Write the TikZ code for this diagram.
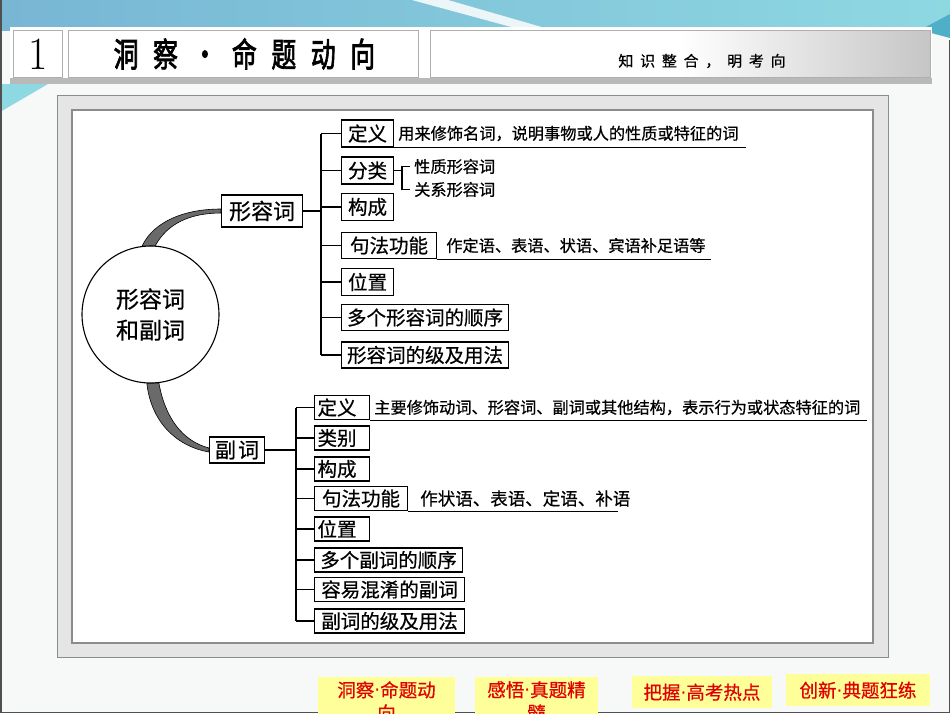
\documentclass[tikz,border=0pt]{standalone}
\usepackage{fontspec}
\newfontfamily\cjk[FakeBold=0.6]{Noto Sans CJK SC}
\newfontfamily\cjkt[FakeBold=2.4]{Noto Sans CJK SC}
\newfontfamily\dotf{DejaVu Sans}
\usetikzlibrary{calc}
\definecolor{topblue}{HTML}{78B6D4}
\definecolor{topcyan}{HTML}{8ED8E2}
\definecolor{wedgeblue}{HTML}{4FAFC8}
\definecolor{framegray}{HTML}{505050}
\definecolor{pagebg}{HTML}{F7F8F8}
\definecolor{panelgray}{HTML}{E5E5E5}
\definecolor{rimgray}{HTML}{8C8C8C}
\definecolor{btnyellow}{HTML}{FFFF99}
\definecolor{btnred}{HTML}{E00000}
\definecolor{bandgray}{HTML}{6A6A6A}
\begin{document}
\begin{tikzpicture}[x=1pt,y=-1pt,
  conn/.style={line width=1.1pt, black},
  abox/.style={draw=black, line width=1.1pt, fill=white, anchor=west,
    font=\cjk\fontsize{19.5}{20}\selectfont, inner xsep=4pt, inner ysep=1pt,
    minimum height=27pt},
  dbox/.style={abox, minimum height=24pt, inner xsep=3pt},
  dboxl/.style={dbox, text width=49pt, align=left},
  deft/.style={anchor=west, inner sep=1pt, font=\cjk\fontsize{16.2}{17}\selectfont},
  band/.style={fill=bandgray, draw=black, line width=0.6pt},
  hdrbox/.style={draw=rimgray!70, line width=0.8pt, anchor=north west, inner sep=0pt},
  btn/.style={fill=btnyellow, text=btnred, anchor=north, align=center,
    font=\cjk\fontsize{18.5}{23}\selectfont, inner xsep=2pt, inner ysep=4pt}
]
\useasboundingbox (0,0) rectangle (950,713);
\clip (0,0) rectangle (950,713);
% page background
\fill[pagebg] (0,0) rectangle (950,713);
\shade[left color=topblue, right color=topcyan] (0,0) rectangle (950,30);
\fill[white, opacity=0.85] (412,0) -- (448,0) -- (545,28) -- (515,28) -- cycle;
\fill[wedgeblue] (920,30) -- (950,14) -- (950,38) -- cycle;
\fill[topcyan] (0,84) -- (48,84) -- (0,112) -- cycle;
% header
\fill[white] (10,27) rectangle (932,78);
\fill[gray!55] (10,78) rectangle (932,84);
\node[hdrbox, fill=white, minimum width=49pt, minimum height=47pt] (hnum) at (13,30) {};
\node[yscale=1.1, font=\fontsize{42}{42}\selectfont] at (hnum.center) {1};
\node[hdrbox, fill=white, minimum width=350pt, minimum height=47pt] (htitle) at (68,30) {};
\node[xscale=0.78, yscale=1.05, font=\cjkt\fontsize{32}{32}\selectfont\addfontfeature{LetterSpace=58}]
  at ([xshift=1pt]htitle.center) {洞察・命题动向};
\fill[white] (430,30) rectangle (680,77);
\shade[left color=white, right color=gray!45] (680,30) rectangle (930,77);
\node[hdrbox, minimum width=500pt, minimum height=47pt] (hright) at (430,30) {};
\node[font=\cjk\fontsize{15}{15}\selectfont\addfontfeature{LetterSpace=45}] at (702,61) {知识整合，明考向};
% panel
\draw[rimgray, fill=panelgray, line width=1pt] (57,95) rectangle (888,657);
\draw[rimgray, fill=white, line width=1.2pt] (72,110) rectangle (873,643);
% root
\node[circle, draw=black, line width=1.1pt, fill=white, minimum size=137pt, inner sep=0pt,
  align=center, font=\cjk\fontsize{23}{31}\selectfont] (root) at (150.5,314.5) {形容词\\和副词};
% main nodes
\node[abox, font=\cjk\fontsize{22}{22}\selectfont, minimum width=81pt, minimum height=32pt] (adj) at (221,211) {形容词};
\node[abox, font=\cjk\fontsize{21}{21}\selectfont\addfontfeature{LetterSpace=10}, minimum width=55pt, minimum height=26pt] (adv) at (209,450) {副词};
% bands
\filldraw[band] (root.97) .. controls +(12,-25) and +(-36,0) .. ([yshift=2pt]adj.west)
  -- ([yshift=-2pt]adj.west) .. controls +(-31,0) and +(12,-22) .. (root.86) -- cycle;
\filldraw[band] (root.-93) .. controls +(4,37) and +(-34,-6) .. ([yshift=-2pt]adv.west)
  -- ([yshift=2pt]adv.west) .. controls +(-27,-7) and +(6,34) .. (root.-83) -- cycle;
% adjective branch
\node[abox, minimum width=52pt] (a1) at (341,133.5) {定义};
\node[abox, minimum width=52pt] (a2) at (341,170.5) {分类};
\node[abox, minimum width=52pt] (a3) at (341,207) {构成};
\node[abox, minimum width=95pt, minimum height=26pt] (a4) at (341,245.5) {句法功能};
\node[abox, minimum width=52pt] (a5) at (341,282) {位置};
\node[abox, minimum width=167pt, minimum height=26pt] (a6) at (341,317.5) {多个形容词的顺序};
\node[abox, minimum width=167pt, minimum height=26pt] (a7) at (341,355) {形容词的级及用法};
\coordinate (ah) at (321,211);
\draw[conn] (adj.east) -- (ah);
\draw[conn] (ah |- a1.west) -- (ah |- a7.west);
\foreach \n in {a1,a2,a3,a4,a5,a6,a7} \draw[conn] (ah |- \n.west) -- (\n.west);
\node[deft] (a1d) at ([xshift=3pt]a1.east) {用来修饰名词，说明事物或人的性质或特征的词};
\draw[conn] (a1.south east) -- ++(352,0);
\node[deft] (a4d) at ([xshift=8pt]a4.east) {作定语、表语、状语、宾语补足语等};
\draw[conn] (a4.south east) -- ++(274,0);
\node[deft, inner xsep=0pt] (t1) at (414,166.5) {性质形容词};
\node[deft, inner xsep=0pt] (t2) at (414,189.5) {关系形容词};
\coordinate (fb) at (402,170.5);
\draw[conn] (a2.east) -- (fb);
\draw[conn] ([xshift=-4pt]t1.west) -- (fb |- t1.west) -- (fb |- t2.west) -- ([xshift=-4pt]t2.west);
% adverb branch
\node[dboxl] (d1) at (314,407.5) {定义};
\node[dboxl] (d2) at (314,438) {类别};
\node[dboxl] (d3) at (314,469) {构成};
\node[dbox, minimum width=93pt] (d4) at (314,498.5) {句法功能};
\node[dboxl] (d5) at (314,529) {位置};
\node[dbox, minimum width=148pt] (d6) at (314,560) {多个副词的顺序};
\node[dbox, minimum width=150pt] (d7) at (314,589.5) {容易混淆的副词};
\node[dbox, minimum width=150pt] (d8) at (314,621) {副词的级及用法};
\coordinate (dh) at (296,450);
\draw[conn] (adv.east) -- (dh);
\draw[conn] (dh |- d1.west) -- (dh |- d8.west);
\foreach \n in {d1,d2,d3,d4,d5,d6,d7,d8} \draw[conn] (dh |- \n.west) -- (\n.west);
\node[deft] (d1d) at ([xshift=3pt]d1.east) {主要修饰动词、形容词、副词或其他结构，表示行为或状态特征的词};
\draw[conn] (d1.south east) -- ++(497,0);
\node[deft, font=\cjk\fontsize{17.5}{18}\selectfont] (d4d) at ([xshift=11pt]d4.east) {作状语、表语、定语、补语};
\draw[conn] (d4.south east) -- ++(210,0);
% page frame
\draw[framegray, line width=1.5pt] (0.75,0) -- (0.75,712.25) -- (949.25,712.25) -- (949.25,40);
% bottom buttons
\node[btn, minimum width=137pt, text width=125pt] (b1) at (386.5,677) {洞察{\dotf ·}命题动\\向};
\node[btn, minimum width=123pt, text width=117pt] (b2) at (536.5,677) {感悟{\dotf ·}真题精\\髓};
\node[btn, minimum width=140pt, minimum height=32pt] (b3) at (702,676) {把握{\dotf ·}高考热点};
\node[btn, minimum width=144pt, minimum height=32pt] (b4) at (858,674) {创新{\dotf ·}典题狂练};
\end{tikzpicture}
\end{document}
